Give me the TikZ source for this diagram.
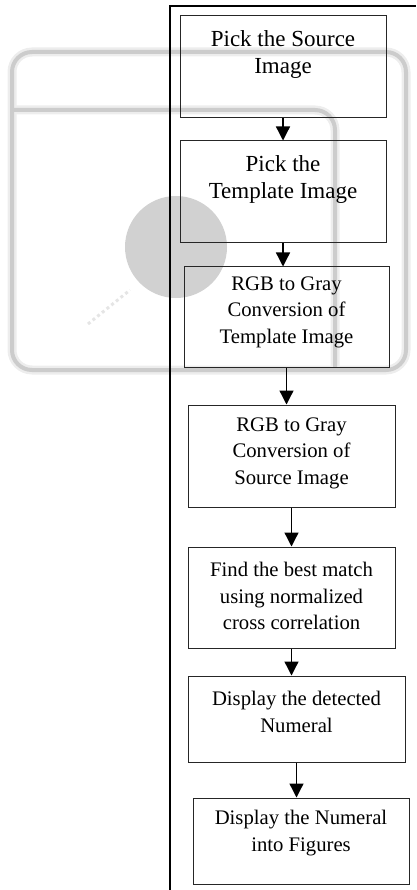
\documentclass[tikz,border=0pt]{standalone}
\usepackage{fontspec}
\setmainfont{Liberation Serif}
\usetikzlibrary{arrows.meta,positioning}
\tikzset{
  stepbox/.style={draw=black!85,line width=1pt,inner sep=0pt},
  steptxt/.style={align=center,inner sep=0pt,font=\fontsize{20.7}{26.5}\selectfont},
  bigtxt/.style={steptxt,font=\fontsize{23}{27}\selectfont},
  arr/.style={-{Triangle[length=14pt,width=14pt]},line width=1.3pt},
  wmhalo/.style={draw=black!7,line width=9pt,rounded corners=20pt},
  wmark/.style={draw=black!20,line width=4pt,rounded corners=20pt},
}
\begin{document}
\begin{tikzpicture}[x=1pt,y=-1pt]
  \useasboundingbox (0,0) rectangle (416,890);
  % faint watermark behind the chart
  \draw[wmhalo] (12,52) rectangle (406,370);
  \draw[wmhalo] (14,110) -- (335,110) -- (335,370);
  \draw[wmark] (12,52) rectangle (406,370);
  \draw[wmark] (14,110) -- (335,110) -- (335,370);
  \fill[black!18] (176,247) circle (51);
  \draw[black!10,line width=3pt,dashed] (88,324) -- (130,290);
  % frame line
  \coordinate (top) at (170,6);
  \coordinate (topright) at (416,6);
  \coordinate (bottom) at (170,890);
  \draw[line width=2pt] (topright) -- (top) -- (bottom);
  % boxes
  \node[stepbox,minimum width=206,minimum height=102] (src) at (283,67) {};
  \node[stepbox,minimum width=206,minimum height=102] (tpl) at (283,192) {};
  \node[stepbox,minimum width=205,minimum height=100] (graytpl) at (286.5,317) {};
  \node[stepbox,minimum width=207,minimum height=102] (graysrc) at (291.5,456) {};
  \node[stepbox,minimum width=207,minimum height=101] (match) at (291.5,597.5) {};
  \node[stepbox,minimum width=217,minimum height=86] (detect) at (296.5,719) {};
  \node[stepbox,minimum width=216,minimum height=86] (figures) at (301,841) {};
  % texts
  \node[bigtxt] (srctxt) at (283,55) {Pick the Source\\Image};
  \node[bigtxt] (tpltxt) at (283,180) {Pick the\\Template Image};
  \node[steptxt] (graytpltxt) at (286.5,312) {RGB to Gray\\Conversion of\\Template Image};
  \node[steptxt] (graysrctxt) at (291.5,453) {RGB to Gray\\Conversion of\\Source Image};
  \node[steptxt] (matchtxt) at (291.5,596) {Find the best match\\using normalized\\cross correlation};
  \node[steptxt] (detecttxt) at (296.5,712) {Display the detected\\Numeral};
  \node[steptxt] (figurestxt) at (301,833) {Display the Numeral\\into Figures};
  % arrows
  \foreach \a/\b in {src/tpl,tpl/graytpl,graytpl/graysrc,graysrc/match,match/detect,detect/figures}
    \draw[arr] (\a.south) -- (\a.south |- \b.north);
\end{tikzpicture}
\end{document}
